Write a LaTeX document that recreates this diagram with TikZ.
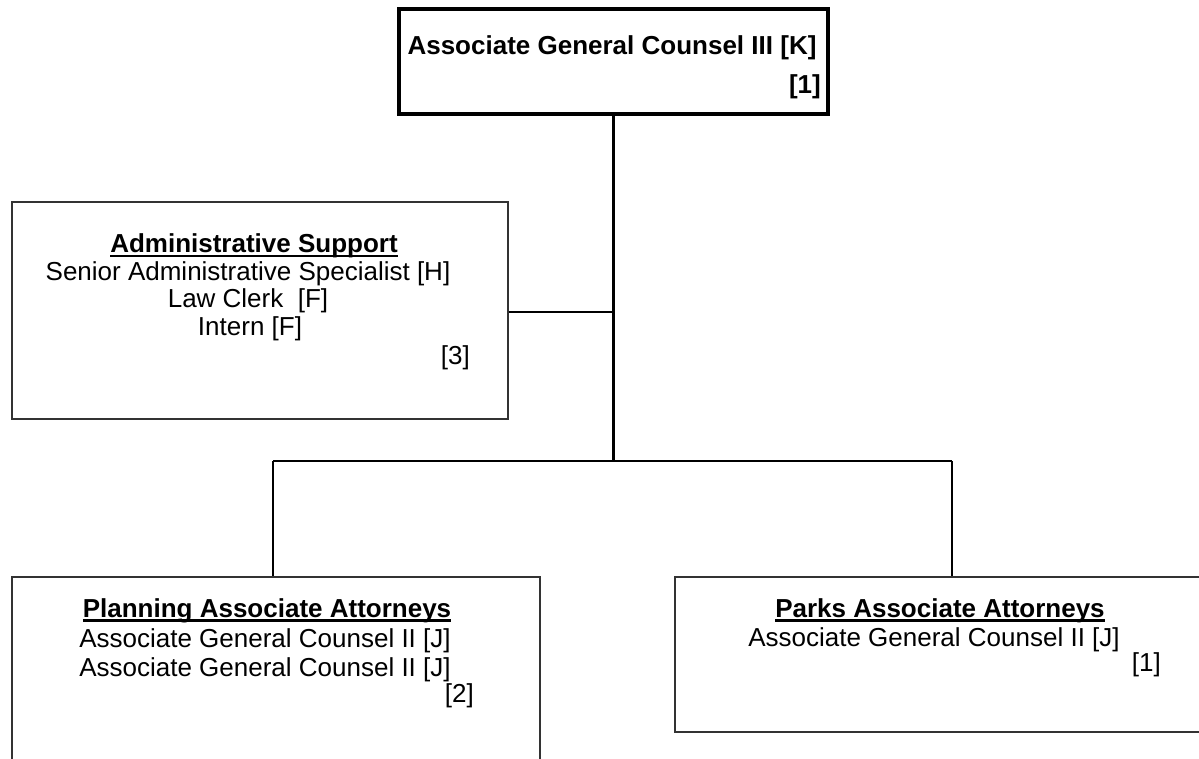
\documentclass[tikz,border=0pt]{standalone}
\usepackage{fontspec}
\setmainfont{Liberation Sans}
% heading underline: a heavy bar drawn under the boxed text
\newcommand\ulbar[1]{\setbox0\hbox{#1}\makebox[0pt][l]{\rule[-4.5pt]{\wd0}{2.6pt}}\box0}
\begin{document}
\begin{tikzpicture}[x=1pt,y=-1pt,
  unitbox/.style={draw=black!80, line width=1.6pt, inner sep=0pt, anchor=north west},
  headbox/.style={draw=black, line width=4pt, inner sep=0pt, anchor=north west},
  link/.style={draw=black, line width=2.6pt},
  txt/.style={font=\fontsize{26}{30}\selectfont, inner sep=0pt, anchor=base},
  headtxt/.style={txt, font=\fontsize{26}{30}\selectfont\bfseries},
  num/.style={txt, anchor=base east}]
\useasboundingbox (0,0) rectangle (1199,759);
\fill[white] (0,0) rectangle (1199,759);

% boxes
\node[headbox, minimum width=429pt, minimum height=105pt] (agc) at (397,7) {};
\node[unitbox, minimum width=496pt, minimum height=217pt] (admin) at (11,201) {};
\node[unitbox, minimum width=528pt, minimum height=200pt] (plan) at (11,576) {};
\node[unitbox, minimum width=560pt, minimum height=155pt] (parks) at (674,576) {};

% connectors
\coordinate (hub) at (agc.south |- 0,312);
\coordinate (split) at (agc.south |- 0,461);
\coordinate (pl) at (273,461);
\coordinate (pk) at (952,461);
\draw[link] (agc.south) -- (split);
\draw[link, line width=2pt] (admin.east |- hub) -- (hub);
\draw[link] (pl) -- (pk);
\draw[link] (pl) -- (pl |- plan.north);
\draw[link] (pk) -- (pk |- parks.north);

% head of the office
\node[headtxt] (agct) at (612,55) {Associate General Counsel III [K]};
\node[headtxt, anchor=base east] (agcn) at (821,94) {[1]};

% administrative support
\node[headtxt] (adh) at (254,253) {\ulbar{Administrative Support}};
\node[txt] (ad1) at (248,281) {Senior Administrative Specialist [H]};
\node[txt] (ad2) at (248,308) {Law Clerk~ [F]};
\node[txt] (ad3) at (250,335) {Intern [F]};
\node[num] (adn) at (470,364) {[3]};

% planning attorneys
\node[headtxt] (plh) at (267,617) {\ulbar{Planning Associate Attorneys}};
\node[txt] (pl1) at (265,647) {Associate General Counsel II [J]};
\node[txt] (pl2) at (265,676) {Associate General Counsel II [J]};
\node[num] (pln) at (474,702) {[2]};

% parks attorneys
\node[headtxt] (pkh) at (940,617) {\ulbar{Parks Associate Attorneys}};
\node[txt] (pk1) at (934,646) {Associate General Counsel II [J]};
\node[num] (pkn) at (1161,671) {[1]};
\end{tikzpicture}
\end{document}
